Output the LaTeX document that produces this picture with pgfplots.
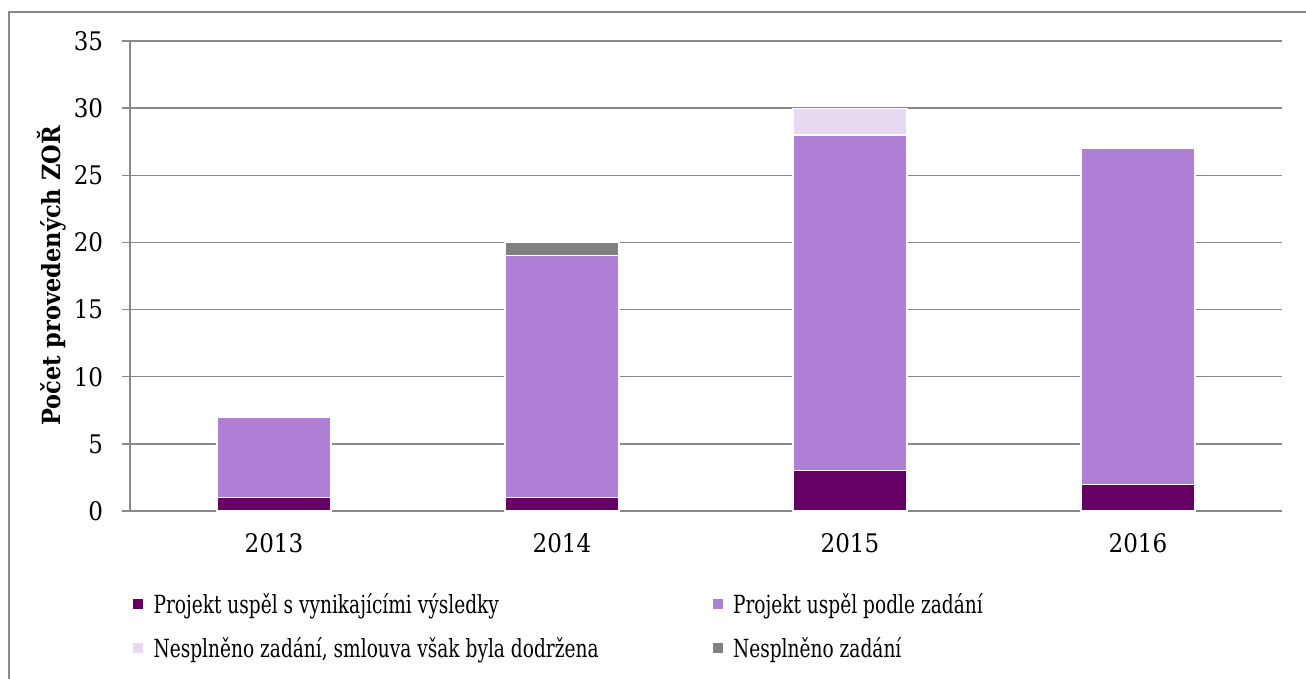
\documentclass[border=0pt]{standalone}
\usepackage{pgfplots}
\pgfplotsset{compat=1.18}
\usepackage{fontspec}
\setmainfont{DejaVu Serif Condensed}
\newfontfamily\legfont[FakeStretch=0.826]{DejaVu Serif Condensed}
\definecolor{cDark}{HTML}{660066}
\definecolor{cMid}{HTML}{AF7FD6}
\definecolor{cLight}{HTML}{E6D9F1}
\definecolor{cGrey}{HTML}{808080}
\definecolor{cAxis}{HTML}{888888}
\begin{document}
\begin{tikzpicture}
\useasboundingbox (0,0) rectangle (979.5pt,508.5pt);
\draw[overlay, cAxis, line width=1pt] (6.75pt,-20pt) |- (1000pt,499.5pt);
\begin{axis}[
  at={(97.5pt,125.25pt)}, anchor=south west,
  scale only axis, width=864pt, height=352.5pt,
  ybar stacked, bar width=85.5pt,
  xmin=-0.5, xmax=3.5, ymin=0, ymax=35,
  xtick={0,1,2,3}, xticklabels={2013,2014,2015,2016},
  xtick style={draw=none},
  extra x ticks={-0.5,0.5,1.5,2.5,3.5}, extra x tick labels={},
  extra x tick style={tick align=outside, major tick length=6.75pt, grid=none, tick style={draw=cAxis, line width=1pt}},
  ytick={0,5,...,35},
  ymajorgrids, grid style={cAxis, line width=1pt},
  tick align=outside, major tick length=6pt,
  ytick style={draw=cAxis, line width=1pt},
  axis x line*=bottom, axis y line*=left,
  axis line style={cAxis, line width=1pt},
  /pgf/number format/assume math mode=true,
  ticklabel style={font=\fontsize{19.2pt}{22pt}\selectfont},
  yticklabel style={anchor=east, inner sep=0pt, xshift=-14pt},
  xticklabel style={anchor=north, inner sep=0pt, yshift=-11pt},
  ylabel={Počet provedených ZOŘ},
  ylabel style={font=\fontsize{18.75pt}{22pt}\selectfont\bfseries, at={(axis description cs:-0.068,0.5)}, anchor=center, rotate=0},
  legend columns=2,
  legend style={at={(0.00174,-0.1745)}, anchor=north west, draw=none, inner sep=0pt, outer sep=0pt,
    font=\legfont\fontsize{18.75pt}{22pt}\selectfont,
    nodes={inner sep=0pt, text height=15pt, text depth=5pt, anchor=base west},
    row sep=13pt,
    /tikz/every odd column/.append style={column sep=6.75pt},
    /tikz/every even column/.append style={column sep=6pt}},
  legend cell align=left,
  legend image code/.code={\fill[#1] (0pt,2.5pt) rectangle (8.5pt,11pt);},
  every axis plot/.append style={draw=white, line width=0.9pt},
]
\addplot[fill=cDark] coordinates {(0,1) (1,1) (2,3) (3,2)};
\addplot[fill=cMid] coordinates {(0,6) (1,18) (2,25) (3,25)};
\addplot[fill=cLight] coordinates {(0,0) (1,0) (2,2) (3,0)};
\addplot[fill=cGrey] coordinates {(0,0) (1,1) (2,0) (3,0)};
\legend{\makebox[412.5pt][l]{Projekt uspěl s vynikajícími výsledky},Projekt uspěl podle zadání,\makebox[412.5pt][l]{Nesplněno zadání, smlouva však byla dodržena},Nesplněno zadání}
\end{axis}
\end{tikzpicture}
\end{document}
